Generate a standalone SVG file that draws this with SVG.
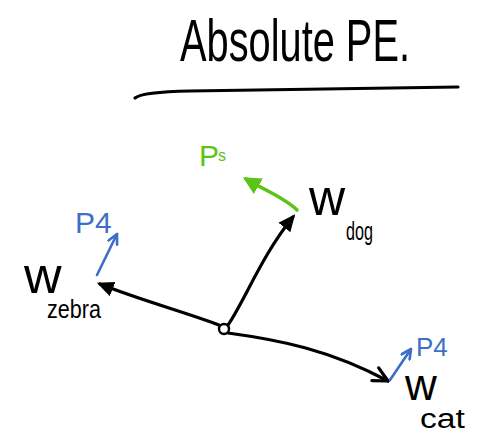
<svg xmlns="http://www.w3.org/2000/svg" width="482" height="435" viewBox="0 0 482 435">
<style>
text{font-family:"Liberation Sans","DejaVu Sans",sans-serif;}
.k{fill:#000}
.g{fill:#5cc416}
.b{fill:#3d6fc9}
.ln{fill:none;stroke:#000;stroke-width:3.2;stroke-linecap:round}
.lg{fill:none;stroke:#5cc416;stroke-width:3.6;stroke-linecap:round}
.lb{fill:none;stroke:#3d6fc9;stroke-width:2.6;stroke-linecap:round}
</style>
<defs>
<marker id="ahK" viewBox="0 0 10 10" refX="8" refY="5" markerWidth="17" markerHeight="17" orient="auto" markerUnits="userSpaceOnUse">
<path d="M0,0.5 L10,5 L0,9.5 Z" fill="#000"/>
</marker>
<marker id="chK" viewBox="0 0 10 10" refX="9" refY="5" markerWidth="18" markerHeight="18" orient="auto" markerUnits="userSpaceOnUse">
<path d="M1,1 L9,5 L1,9" fill="none" stroke="#000" stroke-width="1.8" stroke-linecap="round" stroke-linejoin="round"/>
</marker>
<marker id="ahG" viewBox="0 0 10 10" refX="8" refY="5" markerWidth="18" markerHeight="18" orient="auto" markerUnits="userSpaceOnUse">
<path d="M0,0 L10,5 L0,10 Z" fill="#5cc416"/>
</marker>
<marker id="chB" viewBox="0 0 10 10" refX="9" refY="5" markerWidth="12" markerHeight="12" orient="auto" markerUnits="userSpaceOnUse">
<path d="M1,1 L9,5 L1,9" fill="none" stroke="#3d6fc9" stroke-width="2.2" stroke-linecap="round" stroke-linejoin="round"/>
</marker>
</defs>

<g id="title">
<text class="k" transform="translate(180,61) scale(1,1.5)" x="0" y="0" font-size="40" textLength="230" lengthAdjust="spacingAndGlyphs">Absolute PE.</text>
<path class="ln" d="M135,98 Q142,92 190,91 L458,87"/>
</g>

<g id="connectors">
<path class="ln" d="M228,325 C245,300 262,255 293,217" marker-end="url(#ahK)"/>
<path class="ln" d="M219,325 C185,312 140,300 100,284" marker-end="url(#ahK)"/>
<path class="ln" d="M228,333 C280,340 330,350 388,381" marker-end="url(#chK)"/>
<path class="lg" d="M297,210 C285,198 268,192 246,179" marker-end="url(#ahG)"/>
<path class="lb" d="M97,275 L117,234" marker-end="url(#chB)"/>
<path class="lb" d="M390,380 L411,349" marker-end="url(#chB)"/>
</g>

<g id="origin">
<circle cx="224" cy="329" r="5" fill="#fff" stroke="#000" stroke-width="2.4"/>
</g>

<g id="w-dog">
<text class="k" x="309" y="215" font-size="50">w<tspan x="346" y="240" font-size="26" textLength="27" lengthAdjust="spacingAndGlyphs">dog</tspan></text>
</g>

<g id="p-dog">
<text class="g" x="199" y="166" font-size="30">P<tspan x="218" y="161" font-size="16">s</tspan></text>
</g>

<g id="w-zebra">
<text class="k" x="24" y="293" font-size="52">w<tspan x="47" y="318" font-size="25" textLength="54" lengthAdjust="spacingAndGlyphs">zebra</tspan></text>
</g>

<g id="p-zebra">
<text class="b" x="75" y="233" font-size="30">P4</text>
</g>

<g id="w-cat">
<text class="k" x="405" y="400" font-size="44">w<tspan x="420" y="428" font-size="27" textLength="45" lengthAdjust="spacingAndGlyphs">cat</tspan></text>
</g>

<g id="p-cat">
<text class="b" x="416" y="356" font-size="26">P4</text>
</g>
</svg>
